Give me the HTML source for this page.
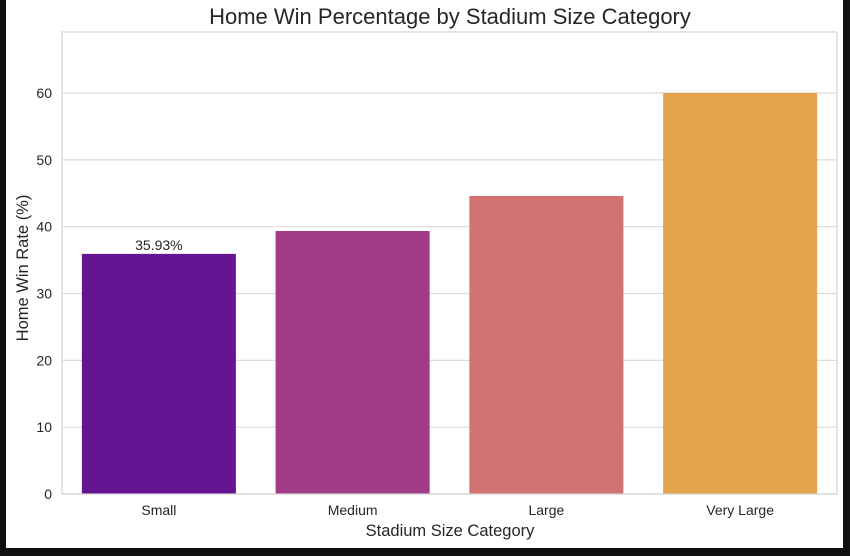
<!DOCTYPE html>
<html><head><meta charset="utf-8"><style>
html,body{margin:0;padding:0;background:#111;}
svg{display:block;font-family:"Liberation Sans",Arial,sans-serif;}
</style></head><body>
<svg id="chart" width="850" height="556">
<rect x="6" y="0" width="837" height="548" fill="#fff"/>
<text x="450" y="24" font-size="22" text-anchor="middle" fill="#262626">Home Win Percentage by Stadium Size Category</text>
<text x="450" y="536" font-size="16.5" text-anchor="middle" fill="#262626">Stadium Size Category</text>
<text transform="translate(28,268) rotate(-90)" font-size="16.5" text-anchor="middle" fill="#262626">Home Win Rate (%)</text>
<g id="grid"></g><g id="bars"></g><g id="labels"></g>
<rect x="62" y="32" width="775" height="462" fill="none" stroke="#d6d6d6" stroke-width="1.2"/>
</svg>
<script>
const categories = ["Small","Medium","Large","Very Large"];
const values = [35.93, 39.35, 44.6, 60.0];
const colors = ["#651592","#a03b86","#d27272","#e4a44e"];
const yTicks = [0,10,20,30,40,50,60];
const annotations = ["35.93%"];
const L=62,R=837,T=32,B=494,YMAX=69.13;
const y=v=>B-(v/YMAX)*(B-T);
const band=(R-L)/categories.length;
const x=i=>L+band*i;
const NS="http://www.w3.org/2000/svg";
const g=document.getElementById('grid'),bg=document.getElementById('bars'),lg=document.getElementById('labels');
function mk(tag,attrs,parent,text){const e=document.createElementNS(NS,tag);for(const k in attrs)e.setAttribute(k,attrs[k]);if(text!==undefined)e.textContent=text;parent.appendChild(e);return e;}
yTicks.forEach(t=>{
  const ln=mk('line',{x1:L,x2:R,y1:y(t),y2:y(t),stroke:'#dcdcdc','stroke-width':1.2},g);
  
  
  const tx=mk('text',{x:L-10,y:y(t)+5,'font-size':14,'text-anchor':'end',fill:'#262626'},lg,String(t));
  
  
});
categories.forEach((c,i)=>{
  const w=band*0.795,bx=x(i)+(band-w)/2;
  const r=mk('rect',{x:bx,y:y(values[i]),width:w,height:B-y(values[i]),fill:colors[i]},bg);
  
  
  const tx=mk('text',{x:x(i)+band/2,y:B+21,'font-size':14,'text-anchor':'middle',fill:'#262626'},lg,c);
  
  
  if(annotations[i]){
    const a=mk('text',{x:x(i)+band/2,y:y(values[i])-4,'font-size':14,'text-anchor':'middle',fill:'#262626'},lg,annotations[i]);
    
    
  }
});
</script>
</body></html>
